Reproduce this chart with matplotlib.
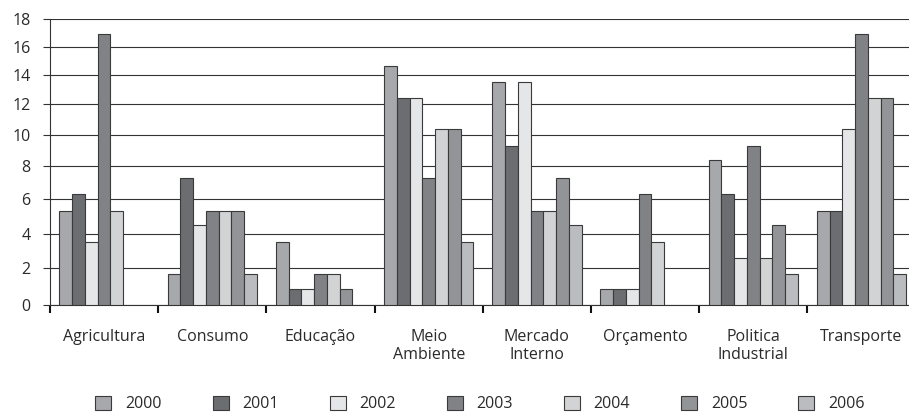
import numpy as np
import matplotlib
matplotlib.use('Agg')
import matplotlib.pyplot as plt

# categories and yearly values
categories = ['Agricultura', 'Consumo', 'Educação', 'Meio\nAmbiente', 'Mercado\nInterno',
              'Orçamento', 'Politica\nIndustrial', 'Transporte']
years = ['2000', '2001', '2002', '2003', '2004', '2005', '2006']
y2000 = [5.3, 1.7, 3.5, 14.6, 13.5, 0.9, 8.4, 5.3]
y2001 = [6.3, 7.3, 0.9, 12.4, 9.3, 0.9, 6.3, 5.3]
y2002 = [3.5, 4.5, 0.9, 12.4, 13.5, 0.9, 2.6, 10.4]
y2003 = [16.9, 5.3, 1.7, 7.3, 5.3, 6.3, 9.3, 16.9]
y2004 = [5.3, 5.3, 1.7, 10.4, 5.3, 3.5, 2.6, 12.4]
y2005 = [0, 5.3, 0.9, 10.4, 7.3, 0, 4.5, 12.4]
y2006 = [0, 1.7, 0, 3.5, 4.5, 0, 1.7, 1.7]
series = [y2000, y2001, y2002, y2003, y2004, y2005, y2006]
yticks = [0, 2, 4, 6, 8, 10, 12, 14, 16, 18]

colors = ['#a7a8ac', '#6c6d71', '#e5e6e8', '#818286', '#d2d3d5', '#939498', '#bbbcc0']

# the printed axis is not evenly spaced: gridline heights (relative) for each tick
grid_h = [0, 37, 71.6, 106.3, 139, 170.3, 201, 230.6, 258.6, 286.3]

def fwd(v):
    return np.interp(v, yticks, grid_h)

def inv(h):
    return np.interp(h, grid_h, yticks)

plt.rcParams['font.family'] = ['Open Sans', 'DejaVu Sans']
plt.rcParams['font.size'] = 11.5
plt.rcParams['text.color'] = '#2a2a2a'

fig = plt.figure(figsize=(9.09, 4.13), dpi=100)
ax = fig.add_axes([50 / 909, 107.7 / 413, 865.6 / 909, 286.3 / 413])
ax.set_yscale('function', functions=(fwd, inv))

x = np.arange(len(categories))
w = 0.118
for j, vals in enumerate(series):
    vals = np.array(vals, dtype=float)
    keep = vals > 0
    ax.bar(x[keep] + (j - 3) * w, vals[keep], width=w, color=colors[j],
           edgecolor='#3a3a3a', linewidth=0.8, label=years[j], zorder=3)

ax.set_xlim(-0.5, len(categories) - 0.5)
ax.set_ylim(0, 18)
ax.set_yticks(yticks)
ax.set_yticklabels([str(t) for t in yticks])
ax.yaxis.grid(True, color='#333333', linewidth=0.8)
ax.set_axisbelow(True)

ax.set_xticks(x)
ax.set_xticklabels(categories)
ax.set_xticks(np.arange(len(categories) + 1) - 0.5, minor=True)
ax.tick_params(axis='x', which='major', length=0, pad=17, labelcolor='#2a2a2a')
ax.tick_params(axis='x', which='minor', length=6, width=1.5, color='#111111')
ax.tick_params(axis='y', length=5, width=0.8, color='#333333', pad=9, labelcolor='#2a2a2a')

for s in ['top', 'right']:
    ax.spines[s].set_visible(False)
ax.spines['left'].set_color('#333333')
ax.spines['bottom'].set_color('#333333')
ax.spines['left'].set_linewidth(0.8)
ax.spines['bottom'].set_linewidth(0.8)

fig.legend(loc='center', bbox_to_anchor=(480 / 909, 1 - 404 / 413), ncol=7, frameon=False,
           handlelength=1.0, handleheight=1.0, handletextpad=0.85, columnspacing=3.2)

fig.savefig('out.png', dpi=100)
